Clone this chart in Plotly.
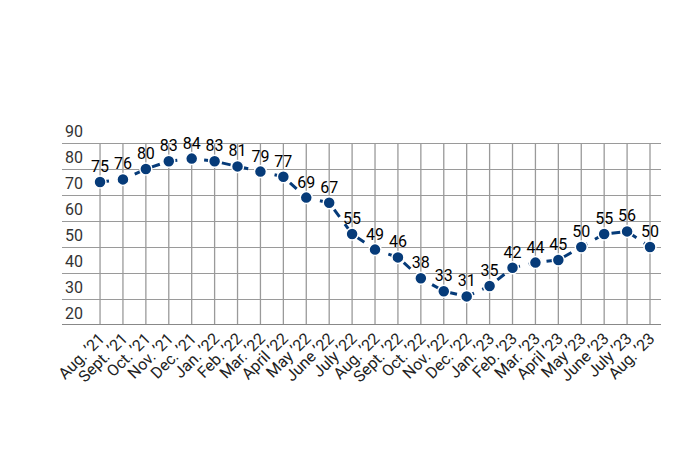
import plotly.graph_objects as go

months = ["Aug. ’21", "Sept. ’21", "Oct. ’21", "Nov. ’21", "Dec. ’21",
          "Jan. ’22", "Feb. ’22", "Mar. ’22", "April ’22", "May ’22", "June ’22",
          "July ’22", "Aug. ’22", "Sept. ’22", "Oct. ’22", "Nov. ’22", "Dec. ’22",
          "Jan. ’23", "Feb. ’23", "Mar. ’23", "April ’23", "May ’23", "June ’23",
          "July ’23", "Aug. ’23"]
values = [75, 76, 80, 83, 84, 83, 81, 79, 77, 69, 67, 55, 49, 46, 38, 33, 31,
          35, 42, 44, 45, 50, 55, 56, 50]
y_ticks = [20, 30, 40, 50, 60, 70, 80, 90]

x_idx = list(range(len(months)))
grid_color = "#9a9a9a"

fig = go.Figure()
fig.add_trace(go.Scatter(
    x=x_idx, y=values,
    mode="lines+markers",
    line=dict(color="#063b79", width=3, dash="dash"),
    marker=dict(color="#063b79", size=12, line=dict(color="white", width=1.5)),
    cliponaxis=False,
    hoverinfo="skip",
))
fig.add_trace(go.Scatter(
    x=x_idx, y=values,
    mode="markers+text",
    marker=dict(size=8, opacity=0),
    text=[str(v) for v in values],
    textposition="top center",
    textfont=dict(family="Roboto, Arial, sans-serif", size=16, color="#000"),
    cliponaxis=False,
    hoverinfo="skip",
))

# vertical gridlines only spanning the labelled y range
for xi in x_idx:
    fig.add_shape(type="line", xref="x", yref="y", x0=xi, x1=xi,
                  y0=y_ticks[0], y1=y_ticks[-1], layer="below",
                  line=dict(color=grid_color, width=1.3))

fig.update_layout(
    width=700, height=450,
    margin=dict(l=62, r=39, t=117, b=125),
    paper_bgcolor="white", plot_bgcolor="white",
    showlegend=False,
    font=dict(family="Roboto, Arial, sans-serif", size=15, color="#222"),
)
fig.update_xaxes(
    range=[-1.66, 24.48],
    tickmode="array", tickvals=x_idx, ticktext=months,
    tickangle=-45,
    showgrid=False,
    zeroline=False, showline=False, automargin=False,
    ticks="", tickfont=dict(size=16, color="#222"),
)
fig.update_yaxes(
    range=[20, 100],
    tickmode="array", tickvals=y_ticks,
    ticklabelposition="inside top",
    showgrid=True, gridcolor=grid_color, gridwidth=1.3,
    zeroline=False, showline=False, ticks="", automargin=False,
    tickfont=dict(size=16, color="#333"),
)
fig.add_shape(type="line", xref="paper", yref="y", x0=0, x1=1, y0=20, y1=20,
              line=dict(color="#888", width=2))

fig.write_html("out.html", config={"displayModeBar": False},
               post_script="document.body.style.margin='0';document.body.style.overflow='hidden';")
